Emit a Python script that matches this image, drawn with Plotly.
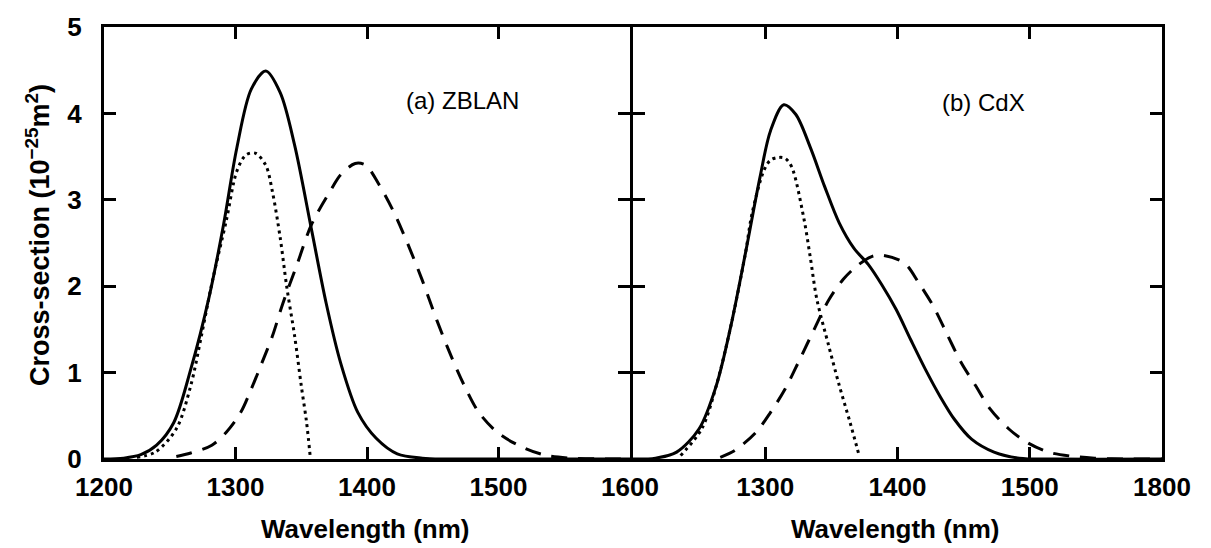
import plotly.graph_objects as go

# ---------------- data ----------------
# (a) ZBLAN
zb_solid_wl = [1200, 1215, 1228, 1240, 1253, 1266, 1280, 1291, 1301, 1312, 1323, 1334, 1345,
               1358, 1369, 1380, 1393, 1407, 1423, 1442, 1460, 1500, 1600]
zb_solid = [0.0, 0.01, 0.05, 0.16, 0.42, 1.04, 1.88, 2.72, 3.6, 4.28, 4.49, 4.24, 3.63,
            2.64, 1.8, 1.11, 0.54, 0.24, 0.06, 0.01, 0.0, 0.0, 0.0]

zb_dot_wl = [1225, 1239, 1255, 1266, 1274, 1282, 1293, 1301, 1308, 1315, 1323, 1328, 1334,
             1339, 1345, 1350, 1354, 1357]
zb_dot = [0.02, 0.08, 0.35, 0.85, 1.42, 2.03, 2.76, 3.33, 3.52, 3.54, 3.4, 3.1, 2.56,
          1.99, 1.42, 0.85, 0.43, 0.0]

zb_dash_wl = [1255, 1266, 1282, 1293, 1304, 1312, 1320, 1328, 1336, 1347, 1358, 1372, 1380,
              1391, 1399, 1409, 1420, 1431, 1442, 1453, 1464, 1474, 1485, 1499, 1515, 1534,
              1555, 1600]
zb_dash = [0.03, 0.07, 0.16, 0.31, 0.54, 0.81, 1.11, 1.42, 1.8, 2.26, 2.72, 3.1, 3.29,
           3.42, 3.4, 3.18, 2.87, 2.49, 2.07, 1.61, 1.19, 0.85, 0.54, 0.31, 0.16, 0.05,
           0.01, 0.0]

# (b) CdX
cd_solid_wl = [1200, 1217, 1233, 1250, 1263, 1274, 1285, 1296, 1304, 1314, 1323, 1334, 1345,
               1356, 1367, 1378, 1388, 1399, 1410, 1421, 1432, 1443, 1456, 1473, 1492, 1520,
               1600]
cd_solid = [0.0, 0.01, 0.08, 0.35, 0.85, 1.54, 2.38, 3.26, 3.8, 4.1, 3.99, 3.61, 3.15,
            2.73, 2.44, 2.25, 2.02, 1.73, 1.38, 1.04, 0.73, 0.46, 0.23, 0.08, 0.01, 0.0,
            0.0]

cd_dot_wl = [1236, 1252, 1263, 1274, 1285, 1290, 1299, 1304, 1310, 1315, 1320, 1329, 1334,
             1339, 1348, 1356, 1364, 1371]
cd_dot = [0.04, 0.35, 0.85, 1.54, 2.38, 2.84, 3.34, 3.46, 3.49, 3.48, 3.38, 2.8, 2.34,
          1.85, 1.31, 0.85, 0.43, 0.04]

cd_dash_wl = [1266, 1277, 1293, 1304, 1315, 1326, 1337, 1348, 1359, 1369, 1380, 1388, 1405,
              1416, 1427, 1437, 1448, 1459, 1470, 1484, 1497, 1514, 1533, 1549, 1571, 1600]
cd_dash = [0.02, 0.1, 0.31, 0.54, 0.81, 1.15, 1.5, 1.84, 2.08, 2.23, 2.34, 2.36, 2.27,
           2.04, 1.77, 1.46, 1.12, 0.85, 0.58, 0.35, 0.2, 0.08, 0.03, 0.01, 0.0, 0.0]

x_tickvals_a = [1200, 1300, 1400, 1500, 1600]
x_ticktext_a = ["1200", "1300", "1400", "1500", "1600"]
x_tickvals_b = [1300, 1400, 1500, 1600]
x_ticktext_b = ["1300", "1400", "1500", "1800"]
y_tickvals = [0, 1, 2, 3, 4, 5]
panel_labels = ["(a) ZBLAN", "(b) CdX"]
x_title = "Wavelength (nm)"
y_title = "Cross-section (10<sup>−25</sup>m<sup>2</sup>)"

# ---------------- figure ----------------
W, H = 1211, 548
ML, MR, MT, MB = 104, 49, 23, 89
pw = W - ML - MR
ph = H - MT - MB
LW = 3
split_end = (630 - ML) / pw
split_start = split_end + LW / pw

DOT = "3px,4px"
DASH = "16px,11px"

fig = go.Figure()

def add(xs, ys, dash, xa, ya):
    fig.add_trace(go.Scatter(
        x=xs, y=ys, mode="lines", xaxis=xa, yaxis=ya,
        line=dict(color="black", width=LW, dash=dash, shape="spline", smoothing=0.9),
        showlegend=False, hoverinfo="skip"))

add(zb_solid_wl, zb_solid, "solid", "x", "y")
add(zb_dot_wl, zb_dot, DOT, "x", "y")
add(zb_dash_wl, zb_dash, DASH, "x", "y")
add(cd_solid_wl, cd_solid, "solid", "x2", "y2")
add(cd_dot_wl, cd_dot, DOT, "x2", "y2")
add(cd_dash_wl, cd_dash, DASH, "x2", "y2")

tickfont = dict(family="Liberation Sans", size=26, color="black", weight="bold")

axis_common = dict(
    showline=True, linecolor="black", linewidth=LW, mirror="allticks",
    ticks="inside", ticklen=12, tickwidth=LW, tickcolor="black",
    showgrid=False, zeroline=False, tickfont=tickfont,
)

fig.update_layout(
    width=W, height=H,
    margin=dict(l=ML, r=MR, t=MT, b=MB, pad=0),
    paper_bgcolor="white", plot_bgcolor="white",
    xaxis=dict(domain=[0, split_end], range=[1200, 1600], anchor="y",
               tickvals=x_tickvals_a, ticktext=x_ticktext_a, ticklabelstandoff=3,
               **axis_common),
    xaxis2=dict(domain=[split_start, 1], range=[1200, 1600], anchor="y2",
                tickvals=x_tickvals_b, ticktext=x_ticktext_b, ticklabelstandoff=3,
                **axis_common),
    yaxis=dict(domain=[0, 1], range=[0, 5], anchor="x",
               tickvals=y_tickvals, ticklabelstandoff=14, **axis_common),
    yaxis2=dict(domain=[0, 1], range=[0, 5], anchor="x2",
                tickvals=y_tickvals, showticklabels=False, **axis_common),
)

ann_font = dict(family="Liberation Sans", size=24, color="black")
fig.add_annotation(x=1428, y=4.15, xref="x", yref="y", text=panel_labels[0],
                   showarrow=False, xanchor="left", yanchor="middle", font=ann_font)
fig.add_annotation(x=1432, y=4.13, xref="x2", yref="y2", text=panel_labels[1],
                   showarrow=False, xanchor="left", yanchor="middle", font=ann_font)

title_font = dict(family="Liberation Sans", size=26, color="black", weight="bold")
fig.add_annotation(x=(365 - ML) / pw, y=(459 - 530) / ph, xref="paper", yref="paper",
                   text=x_title, showarrow=False, xanchor="center", yanchor="middle",
                   font=title_font)
fig.add_annotation(x=(895 - ML) / pw, y=(459 - 530) / ph, xref="paper", yref="paper",
                   text=x_title, showarrow=False, xanchor="center", yanchor="middle",
                   font=title_font)
fig.add_annotation(x=(38 - ML) / pw, y=(459 - 233) / ph, xref="paper", yref="paper",
                   text=y_title, showarrow=False, textangle=-90,
                   xanchor="center", yanchor="middle",
                   font=dict(family="Liberation Sans", size=27, color="black", weight="bold"))

fig.write_html("out.html")
